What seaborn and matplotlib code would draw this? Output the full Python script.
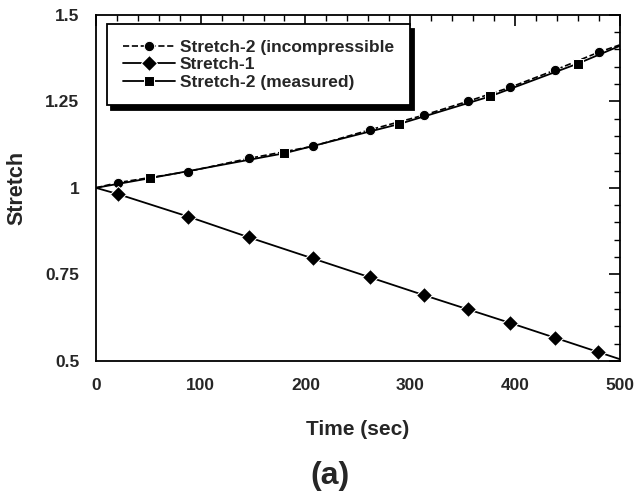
import matplotlib
matplotlib.use("Agg")
import matplotlib.pyplot as plt
import seaborn as sns
import numpy as np
from matplotlib.ticker import MultipleLocator, FixedLocator, FixedFormatter

sns.set_theme(style="white")
plt.rcParams['font.family'] = ['Liberation Sans', 'DejaVu Sans']
plt.rcParams['font.weight'] = 'bold'

# Data; first and last points are curve ends without markers
t_inc = [0, 21, 88, 146, 207, 262, 313, 355, 395, 438, 480, 500]
s2_inc = [1.0, 1.015, 1.047, 1.085, 1.12, 1.168, 1.21, 1.25, 1.29, 1.34, 1.392, 1.413]

t_s1 = [0, 21, 88, 146, 207, 262, 313, 355, 395, 438, 479, 500]
s1 = [1.0, 0.982, 0.917, 0.857, 0.796, 0.741, 0.690, 0.649, 0.610, 0.567, 0.526, 0.505]

t_meas = [0, 52, 180, 289, 376, 460, 500]
s2_meas = [1.0, 1.028, 1.100, 1.184, 1.264, 1.359, 1.41]

labels = ["Stretch-2 (incompressible", "Stretch-1", "Stretch-2 (measured)"]
x_ticks = [0, 100, 200, 300, 400, 500]
y_ticks = [0.5, 0.75, 1.0, 1.25, 1.5]
y_tick_labels = ["0.5", "0.75", "1", "1.25", "1.5"]

fig = plt.figure(figsize=(6.35, 4.93), dpi=100)
ax = fig.add_axes([0.151, 0.268, 0.825, 0.702])

sns.lineplot(x=t_inc, y=s2_inc, ax=ax, color="black", linestyle="--", lw=1.2,
             marker="o", markersize=7.5, markevery=slice(1, -1), label=labels[0])
sns.lineplot(x=t_s1, y=s1, ax=ax, color="black", lw=1.3,
             marker="D", markersize=8, markevery=slice(1, -1), label=labels[1])
sns.lineplot(x=t_meas, y=s2_meas, ax=ax, color="black", lw=1.3,
             marker="s", markersize=7, markevery=slice(1, -1), label=labels[2])

ax.set_xlim(0, 500)
ax.set_ylim(0.5, 1.5)
ax.xaxis.set_major_locator(FixedLocator(x_ticks))
ax.xaxis.set_minor_locator(MultipleLocator(20))
ax.yaxis.set_major_locator(FixedLocator(y_ticks))
ax.yaxis.set_major_formatter(FixedFormatter(y_tick_labels))
ax.yaxis.set_minor_locator(MultipleLocator(0.05))
ax.tick_params(which="both", direction="in", top=True, right=True, color="black")
ax.tick_params(which="major", length=8, width=1.2, labelsize=12.5, pad=12)
ax.tick_params(which="minor", length=4, width=1.0)
for lab in ax.get_xticklabels() + ax.get_yticklabels():
    lab.set_fontweight("bold")
for sp in ax.spines.values():
    sp.set_color("black")
    sp.set_linewidth(1.3)

ax.set_xlabel("Time (sec)", fontsize=15, fontweight="bold", labelpad=20)
ax.set_ylabel("Stretch", fontsize=15.5, fontweight="bold", labelpad=13)

leg = ax.legend(loc="upper left", bbox_to_anchor=(0.021, 0.972), borderaxespad=0,
                fontsize=12.5, handlelength=3.0, handletextpad=0.3, borderpad=0.9,
                labelspacing=0.12, fancybox=False, framealpha=1,
                shadow={"color": "black", "alpha": 1, "ox": 3, "oy": -3})
leg.get_frame().set_edgecolor("black")
leg.get_frame().set_linewidth(1.3)
for txt in leg.get_texts():
    txt.set_fontweight("bold")

fig.text(0.52, 0.035, "(a)", fontsize=23, fontweight="bold", ha="center", va="center")

fig.savefig("out.png", dpi=100, facecolor="white")
